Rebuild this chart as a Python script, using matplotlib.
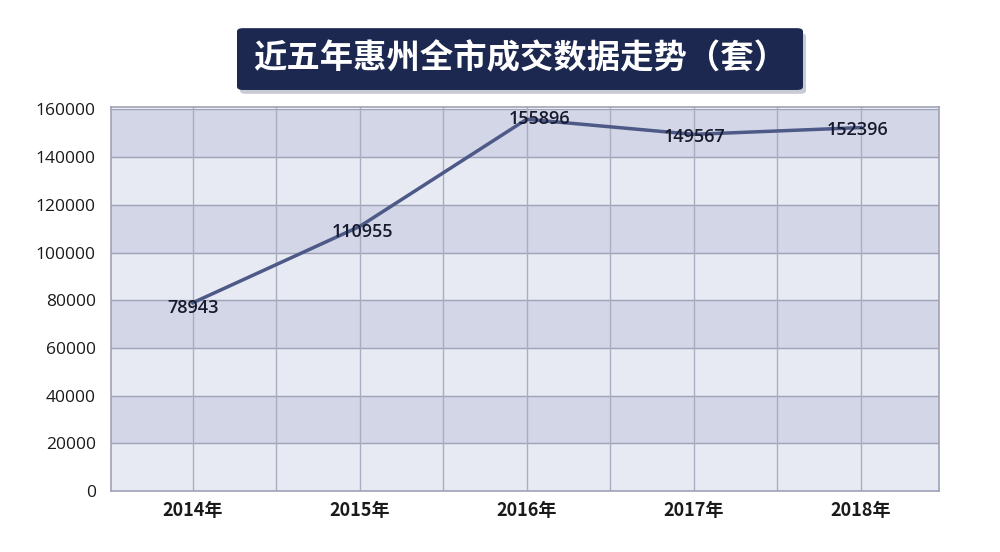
import matplotlib
matplotlib.use("Agg")
import matplotlib.pyplot as plt
from matplotlib.patches import FancyBboxPatch

plt.rcParams['font.family'] = ['Noto Sans CJK SC', 'DejaVu Sans']

years = ["2014年", "2015年", "2016年", "2017年", "2018年"]
values = [78943, 110955, 155896, 149567, 152396]
yticks = [0, 20000, 40000, 60000, 80000, 100000, 120000, 140000, 160000]
title = "近五年惠州全市成交数据走势（套）"

fig = plt.figure(figsize=(10, 5.52), dpi=100)
fig.patch.set_facecolor("white")
ax = fig.add_axes([0.111, 0.1105, 0.828, 0.6955])

dark = "#d2d6e7"
light = "#e7eaf3"
for i in range(len(yticks) - 1):
    ax.axhspan(yticks[i], yticks[i + 1], color=(light if i % 2 == 0 else dark), zorder=0, lw=0)

x = list(range(len(years)))
ax.set_xlim(-0.49, 4.47)
ax.set_ylim(0, 161000)

for yv in yticks[1:]:
    ax.axhline(yv, color="#9da2b6", lw=1.0, zorder=1)
for k in range(0, 10):
    xv = -0.5 + 0.5 * k
    if xv > -0.49:
        ax.axvline(xv, color="#a9adc0", lw=1.0, zorder=1)

num_font = ['Open Sans', 'Noto Sans CJK SC', 'DejaVu Sans']

ax.plot(x, values, color="#4d5986", lw=2.5, zorder=3)
label_offsets = [(0, -4), (2, -4), (9, 0), (1, -2), (-2, -2)]
for xi, v, off in zip(x, values, label_offsets):
    ax.annotate(f"{v}", (xi, v), xytext=off, textcoords="offset points",
                ha="center", va="center", fontsize=13, color="#161a2c", zorder=4,
                family=num_font, fontweight="semibold")

ax.set_xticks(x)
ax.set_xticklabels(years, fontsize=13, fontweight="bold", color="#1a1a1a")
ax.set_yticks(yticks)
ax.set_yticklabels([str(t) for t in yticks], fontsize=12.5, color="#1a1a1a", family=num_font)
ax.tick_params(axis="y", length=0, pad=11)
ax.tick_params(axis="x", length=0, pad=7)
for s in ax.spines.values():
    s.set_color("#9da2b6")
    s.set_linewidth(1.2)

# title box
shadow = FancyBboxPatch((0.240, 0.830), 0.566, 0.110, boxstyle="round,pad=0,rounding_size=0.006",
                        transform=fig.transFigure, facecolor="#c8cbd6", edgecolor="none", zorder=0)
fig.patches.append(shadow)
box = FancyBboxPatch((0.237, 0.837), 0.566, 0.112, boxstyle="round,pad=0,rounding_size=0.006",
                     transform=fig.transFigure, facecolor="#1c2850", edgecolor="none", zorder=1)
fig.patches.append(box)
fig.text(0.52, 0.893, title, ha="center", va="center", fontsize=24, fontweight="bold",
         color="white", zorder=2)

fig.savefig("out.png", dpi=100)
